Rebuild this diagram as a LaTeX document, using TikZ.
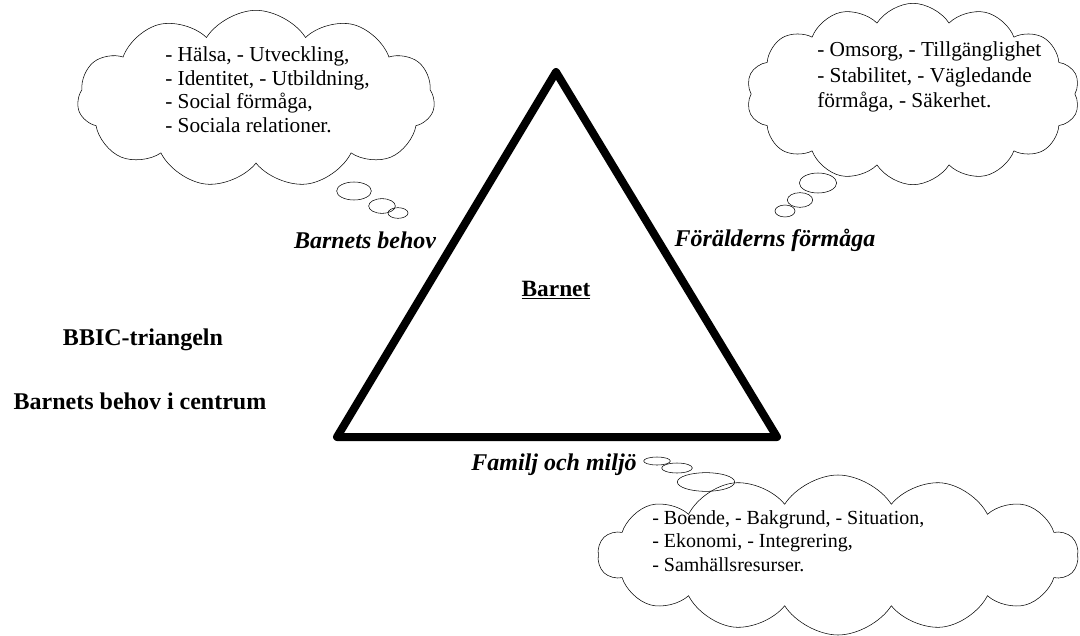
\documentclass[tikz,border=0pt]{standalone}
\usepackage{fontspec}
\setmainfont{Liberation Serif}
\usetikzlibrary{shapes.symbols,shapes.geometric}
\tikzset{
  % cloud outline round a list of factors
  thought/.style = {
    draw = black,
    cloud,
    cloud puffs = 11,
    cloud puff arc = 115,
    cloud ignores aspect,
    thin,
    inner sep = 0
  },
  % small bubbles that lead to a cloud
  bubble/.style = {
    draw = black,
    ellipse,
    thin,
    inner sep = 0
  },
  % list inside a cloud, placed by the baseline of its last line
  factors/.style = {
    align = left,
    anchor = base west,
    inner sep = 0,
    font = \fontsize{16}{17.5}\selectfont
  },
  % side of the triangle
  side/.style = {
    font = \fontsize{18}{20}\selectfont\bfseries\itshape
  },
  % heading at the left
  heading/.style = {
    font = \fontsize{18}{20}\selectfont\bfseries
  }
}

\begin{document}
\begin{tikzpicture}[x=0.75pt, y=-0.75pt]
    \useasboundingbox (0,0) rectangle (1080,635);

    % the triangle
    \coordinate (apex) at (556,72);
    \coordinate (base left) at (337,437);
    \coordinate (base right) at (777,437);
    \draw[line width=6pt, line join=round] (apex) -- (base right) -- (base left) -- cycle;

    \node[heading, font=\fontsize{17.5}{20}\selectfont\bfseries] (child) at (556,290) {\underline{Barnet}};

    % sides
    \node[side] (needs) at (365,240) {Barnets behov};
    \node[side] (parents) at (775,240) {Förälderns förmåga};
    \node[side] (family) at (554,465) {Familj och miljö};

    % headings
    \node[heading] (title) at (143,340) {BBIC-triangeln};
    \node[heading] (subtitle) at (140,401) {Barnets behov i centrum};

    % cloud of the child's needs
    \node[thought, minimum width=268pt, minimum height=133pt] (needs cloud) at (256,99) {};
    \node[factors] (needs list) at (165,132) {- Hälsa, - Utveckling,\\- Identitet, - Utbildning,\\- Social förmåga,\\- Sociala relationer.};
    \node[bubble, minimum width=26pt, minimum height=13.5pt] (needs b1) at (354,191) {};
    \node[bubble, minimum width=20pt, minimum height=11pt] (needs b2) at (382,206) {};
    \node[bubble, minimum width=15pt, minimum height=8pt] (needs b3) at (398,213) {};

    % cloud of the parents' ability
    \node[thought, cloud puffs=14, minimum width=250pt, minimum height=136pt] (parents cloud) at (913,94) {};
    \node[factors, font=\fontsize{16}{19.2}\selectfont] (parents list) at (817,108) {- Omsorg, - Tillgänglighet\\- Stabilitet, - Vägledande\\förmåga, - Säkerhet.};
    \node[bubble, minimum width=28pt, minimum height=15pt] (parents b1) at (818,183) {};
    \node[bubble, minimum width=19pt, minimum height=11pt] (parents b2) at (800,200) {};
    \node[bubble, minimum width=15pt, minimum height=9pt] (parents b3) at (785,211) {};

    % cloud of family and surroundings
    \node[thought, cloud puffs=14, minimum width=360pt, minimum height=120pt] (family cloud) at (838,555) {};
    \node[factors, font=\fontsize{15}{17.3}\selectfont] (family list) at (652,571) {- Boende, - Bakgrund, - Situation,\\- Ekonomi, - Integrering,\\- Samhällsresurser.};
    \node[bubble, minimum width=20pt, minimum height=6pt] (family b1) at (657,461) {};
    \node[bubble, minimum width=23pt, minimum height=7.5pt] (family b2) at (677,468) {};
    \node[bubble, minimum width=43pt, minimum height=14pt] (family b3) at (706,482) {};
\end{tikzpicture}
\end{document}
